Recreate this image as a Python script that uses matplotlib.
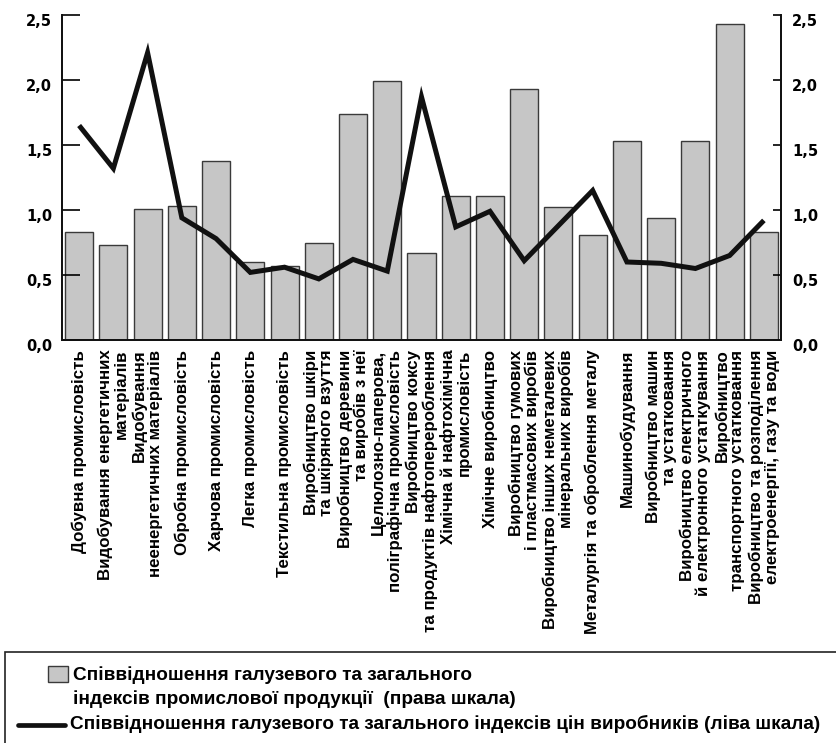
import matplotlib
matplotlib.use('Agg')
import matplotlib.pyplot as plt
import matplotlib.transforms as mtransforms
from matplotlib.patches import Rectangle
from matplotlib.lines import Line2D
import numpy as np

industries = [
    'Добувна промисловість',
    'Видобування енергетичних\nматеріалів',
    'Видобування\nнеенергетичних матеріалів',
    'Обробна промисловість',
    'Харчова промисловість',
    'Легка промисловість',
    'Текстильна промисловість',
    'Виробництво шкіри\nта шкіряного взуття',
    'Виробництво деревини\nта виробів з неї',
    'Целюлозно-паперова,\nполіграфічна промисловість',
    'Виробництво коксу\nта продуктів нафтоперероблення',
    'Хімічна й нафтохімічна\nпромисловість',
    'Хімічне виробництво',
    'Виробництво гумових\nі пластмасових виробів',
    'Виробництво інших неметалевих\nмінеральних виробів',
    'Металургія та оброблення металу',
    'Машинобудування',
    'Виробництво машин\nта устатковання',
    'Виробництво електричного\nй електронного устаткування',
    'Виробництво\nтранспортного устатковання',
    'Виробництво та розподілення\nелектроенергії, газу та води',
]

# bars, right scale
output_ratio = [0.83, 0.73, 1.01, 1.03, 1.38, 0.60, 0.57, 0.75, 1.74, 1.99, 0.67,
                1.11, 1.11, 1.93, 1.02, 0.81, 1.53, 0.94, 1.53, 2.43, 0.83]
# line, left scale
price_ratio = [1.65, 1.32, 2.21, 0.94, 0.78, 0.52, 0.56, 0.47, 0.62, 0.53, 1.87,
               0.87, 0.99, 0.61, 0.88, 1.15, 0.60, 0.59, 0.55, 0.65, 0.92]

yticks = [0.0, 0.5, 1.0, 1.5, 2.0, 2.5]
ytick_labels = ['0,0', '0,5', '1,0', '1,5', '2,0', '2,5']

bar_label = ['Співвідношення галузевого та загального',
             'індексів промислової продукції  (права шкала)']
line_label = 'Співвідношення галузевого та загального індексів цін виробників (ліва шкала)'

W, H = 837, 743
fig = plt.figure(figsize=(W / 100, H / 100), dpi=100)
ax = fig.add_axes([62 / W, 1 - 340 / H, (781 - 62) / W, (340 - 15) / H])
ax2 = ax.twinx()

x = np.arange(len(industries))
ax2.bar(x, output_ratio, width=0.82, color='#c6c6c6', edgecolor='#3a3a3a', linewidth=1.0)
ax.plot(x, price_ratio, color='#111111', lw=3.6, solid_joinstyle='miter', solid_capstyle='butt')

# line over bars
ax.set_zorder(ax2.get_zorder() + 1)
ax.patch.set_visible(False)

for a in (ax, ax2):
    a.set_ylim(0, 2.5)
    a.set_xlim(-0.5, len(industries) - 0.5)
    a.set_yticks(yticks)
    a.spines['top'].set_visible(False)
    for s in ('left', 'right', 'bottom'):
        a.spines[s].set_linewidth(1.3)
        a.spines[s].set_color('#111111')

ax.set_yticklabels(ytick_labels, fontsize=10.5, fontweight='bold', family='DejaVu Sans')
ax2.set_yticklabels(ytick_labels, fontsize=10.5, fontweight='bold', family='DejaVu Sans')
ax.tick_params(axis='y', direction='in', length=13, width=1.2, pad=7)
ax2.tick_params(axis='y', direction='in', length=6, width=1.2, pad=8)

offset = mtransforms.ScaledTranslation(0, -5 / 100, fig.dpi_scale_trans)
for lab in ax.get_yticklabels() + ax2.get_yticklabels():
    lab.set_transform(lab.get_transform() + offset)

ax.set_xticks(x)
ax.set_xticklabels(industries, rotation=90, fontsize=12.2, fontweight='bold',
                   family='Liberation Sans', va='top', ha='center',
                   multialignment='right', linespacing=1.08)
ax.tick_params(axis='x', length=0, pad=7)
ax2.tick_params(axis='x', length=0, labelbottom=False)

# legend box, runs past the right and bottom edge
fig.patches.append(Rectangle((5 / W, -0.1), 2, 0.1 + 1 - 652 / H, transform=fig.transFigure,
                             fill=False, edgecolor='#222222', lw=1.2, clip_on=False))
fig.patches.append(Rectangle((48 / W, 1 - 682 / H), 20 / W, 16 / H, transform=fig.transFigure,
                             facecolor='#c6c6c6', edgecolor='#3a3a3a', lw=1.0))
fig.lines.append(Line2D([18 / W, 65 / W], [1 - 725 / H, 1 - 725 / H], transform=fig.transFigure,
                        color='#111111', lw=3.4, solid_capstyle='round'))
leg_font = dict(fontsize=13.7, fontweight='bold', family='Liberation Sans')
fig.text(73 / W, 1 - 675 / H, bar_label[0], va='center', ha='left', **leg_font)
fig.text(73 / W, 1 - 699 / H, bar_label[1], va='center', ha='left', **leg_font)
fig.text(70 / W, 1 - 724 / H, line_label, va='center', ha='left', **leg_font)

fig.savefig('out.png', dpi=100, facecolor='white')
